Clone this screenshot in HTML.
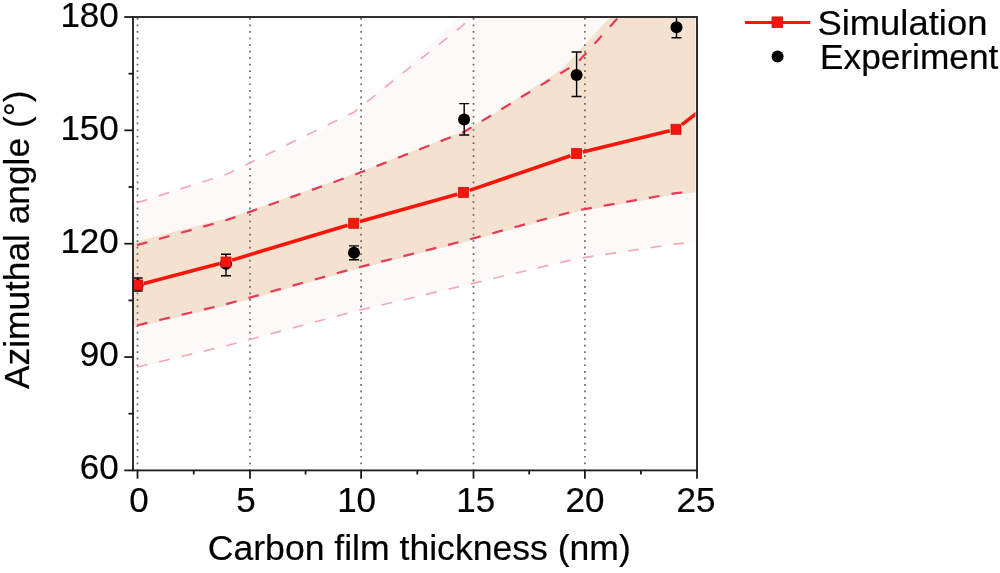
<!DOCTYPE html>
<html><head><meta charset="utf-8">
<style>
html,body{margin:0;padding:0;background:#fff;width:1000px;height:573px;overflow:hidden;}
svg{display:block;}
text{font-family:"Liberation Sans",sans-serif;fill:#000;stroke:#000;stroke-width:0.2px;}
svg{-webkit-font-smoothing:antialiased;will-change:transform;}
</style></head>
<body>
<svg width="1000" height="573" viewBox="0 0 1000 573">
<defs>
<clipPath id="pc"><rect x="133.5" y="17.7" width="562" height="452"/></clipPath>
</defs>
<g clip-path="url(#pc)">
  <!-- outer band fill -->
  <path d="M117.0,209.0 L133.0,204.0 L226.0,174.8 L300.0,142.3 L361.0,106.3 L459.6,17.5 L470.0,0.0 L705.0,0.0 L705.0,242.5 L697.0,243.0 L676.0,244.3 L576.6,259.2 L463.5,286.1 L353.7,312.1 L226.0,346.3 L137.6,367.5 L133.0,368.7 L117.0,372.0 Z" fill="#fdf9f6"/>
  <!-- inner band fill -->
  <path d="M117.0,246.5 L133.0,242.2 L226.0,218.6 L353.7,174.3 L463.5,131.0 L492.0,115.0 L562.0,69.0 L615.0,12.0 L625.0,-20.0 L705.0,-20.0 L705.0,191.5 L697.0,192.5 L676.0,194.6 L576.6,212.0 L463.5,242.5 L353.7,270.1 L226.0,305.7 L137.6,326.7 L133.0,327.8 L117.0,330.0 Z" fill="#f4e1cf"/>
</g>
<g clip-path="url(#pc)" fill="none">
  <!-- gridlines -->
  <g stroke="#666" stroke-width="1.7" stroke-dasharray="1.7 4.835">
    <line x1="137.5" y1="18.05" x2="137.5" y2="470"/>
    <line x1="250.0" y1="18.05" x2="250.0" y2="470"/>
    <line x1="361.1" y1="18.05" x2="361.1" y2="470"/>
    <line x1="473.5" y1="18.05" x2="473.5" y2="470"/>
    <line x1="584.9" y1="18.05" x2="584.9" y2="470"/>
  </g>
  <!-- outer dashed -->
  <g stroke="#f1a9bd" stroke-width="1.7" stroke-dasharray="10.8 12.15" stroke-dashoffset="18.9">
    <polyline points="133,204.1 137.6,202.6 226,174.5 353.7,112.3 463.5,24.8 472,12"/>
    <polyline points="133,368.2 137.6,367 226,345.8 353.7,311.6 463.5,285.6 576.6,258.7 676,243.8 697,242.5"/>
  </g>
  <!-- inner dashed -->
  <g stroke="#e43a55" stroke-width="2.2" stroke-dasharray="10.8 12.15" stroke-dashoffset="18.9">
    <polyline points="133,246.2 137.6,244.9 226,220.3 353.7,175 463.5,132.2 576.6,63.5 630,4.5"/>
    <polyline points="133,326.3 137.6,325.2 226,304.2 353.7,268.6 463.5,241 576.6,210.5 676,193.1 693,191.4"/>
  </g>
  <!-- simulation line -->
  <path d="M143.8,283.4 L219.8,263.6 M232.1,260.1 L347.6,225.2 M359.9,221.6 L457.3,194.2 M469.6,190.4 L570.5,155.7 M582.8,152.1 L669.8,130.8 M681.9,124.7 L720.0,95.0" stroke="#f8150c" stroke-width="3.6" stroke-linecap="butt"/>
  <!-- experiment -->
  <g stroke="#000" stroke-width="1.4">
    <line x1="137.6" y1="278" x2="137.6" y2="291"/><line x1="132.6" y1="278" x2="142.6" y2="278"/><line x1="132.6" y1="291" x2="142.6" y2="291"/>
    <line x1="226" y1="254.3" x2="226" y2="275.8"/><line x1="221" y1="254.3" x2="231" y2="254.3"/><line x1="221" y1="275.8" x2="231" y2="275.8"/>
    <line x1="354" y1="245.9" x2="354" y2="259.8"/><line x1="349" y1="245.9" x2="359" y2="245.9"/><line x1="349" y1="259.8" x2="359" y2="259.8"/>
    <line x1="464.2" y1="103.6" x2="464.2" y2="135"/><line x1="459.2" y1="103.6" x2="469.2" y2="103.6"/><line x1="459.2" y1="135" x2="469.2" y2="135"/>
    <line x1="576.6" y1="52" x2="576.6" y2="96.5"/><line x1="571.6" y1="52" x2="581.6" y2="52"/><line x1="571.6" y1="96.5" x2="581.6" y2="96.5"/>
    <line x1="676.5" y1="17" x2="676.5" y2="37.8"/><line x1="671.5" y1="37.8" x2="681.5" y2="37.8"/>
  </g>
  <g fill="#000">
    <circle cx="137.6" cy="285" r="6"/>
    <circle cx="226" cy="263.8" r="6"/>
    <circle cx="354" cy="252.8" r="6"/>
    <circle cx="464.1" cy="119.5" r="6"/>
    <circle cx="576.6" cy="75" r="6"/>
    <circle cx="676.5" cy="27.3" r="6"/>
  </g>
  <!-- sim squares -->
  <g fill="#f8150c" stroke="#d01010" stroke-width="0.8">
    <rect x="132.6" y="280.0" width="10" height="10"/>
    <rect x="221.0" y="257.0" width="10" height="10"/>
    <rect x="348.7" y="218.3" width="10" height="10"/>
    <rect x="458.5" y="187.5" width="10" height="10"/>
    <rect x="571.6" y="148.6" width="10" height="10"/>
    <rect x="671.0" y="124.3" width="10" height="10"/>
  </g>
</g>
<!-- axes frame -->
<g stroke="#1a1a1a" stroke-width="1.8" fill="none">
  <rect x="133" y="17" width="564" height="453.4"/>
  <!-- y ticks -->
  <line x1="124.3" y1="17" x2="133" y2="17"/>
  <line x1="124.3" y1="130.35" x2="133" y2="130.35"/>
  <line x1="124.3" y1="243.7" x2="133" y2="243.7"/>
  <line x1="124.3" y1="357.05" x2="133" y2="357.05"/>
  <line x1="124.3" y1="470.4" x2="133" y2="470.4"/>
  <line x1="128.5" y1="73.7" x2="133" y2="73.7"/>
  <line x1="128.5" y1="187" x2="133" y2="187"/>
  <line x1="128.5" y1="300.4" x2="133" y2="300.4"/>
  <line x1="128.5" y1="413.7" x2="133" y2="413.7"/>
  <!-- x ticks -->
  <line x1="137.5" y1="470.4" x2="137.5" y2="478.7"/>
  <line x1="250.0" y1="470.4" x2="250.0" y2="478.7"/>
  <line x1="361.1" y1="470.4" x2="361.1" y2="478.7"/>
  <line x1="473.5" y1="470.4" x2="473.5" y2="478.7"/>
  <line x1="584.9" y1="470.4" x2="584.9" y2="478.7"/>
  <line x1="697" y1="470.4" x2="697" y2="478.7"/>
  <line x1="193.75" y1="470.4" x2="193.75" y2="474.5"/>
  <line x1="305.55" y1="470.4" x2="305.55" y2="474.5"/>
  <line x1="417.3" y1="470.4" x2="417.3" y2="474.5"/>
  <line x1="529.2" y1="470.4" x2="529.2" y2="474.5"/>
  <line x1="640.95" y1="470.4" x2="640.95" y2="474.5"/>
</g>
<!-- tick labels -->
<g font-size="35" text-anchor="end">
  <text x="118.8" y="26.6">180</text>
  <text x="118.8" y="139.5">150</text>
  <text x="118.8" y="252.8">120</text>
  <text x="118.8" y="366.2">90</text>
  <text x="118.8" y="479.4">60</text>
</g>
<g font-size="35" text-anchor="middle">
  <text x="138.9" y="511.8">0</text>
  <text x="246" y="511.8">5</text>
  <text x="356.6" y="511.8">10</text>
  <text x="475.7" y="511.8">15</text>
  <text x="585" y="511.8">20</text>
  <text x="695.9" y="511.8">25</text>
</g>
<!-- axis titles -->
<text x="207.8" y="560" font-size="35.5" textLength="423" lengthAdjust="spacingAndGlyphs">Carbon film thickness (nm)</text>
<text transform="translate(29.4,389) rotate(-90)" font-size="35.5" textLength="298.5" lengthAdjust="spacingAndGlyphs">Azimuthal angle (°)</text>
<!-- legend -->
<line x1="744.9" y1="22.6" x2="810.2" y2="22.6" stroke="#f8150c" stroke-width="3"/>
<rect x="772" y="16.9" width="10.7" height="10.7" fill="#f8150c" stroke="#d01010" stroke-width="0.8"/>
<circle cx="777.6" cy="56.6" r="6" fill="#000"/>
<text x="817.4" y="34.9" font-size="34.5" textLength="170" lengthAdjust="spacingAndGlyphs">Simulation</text>
<text x="820" y="69.1" font-size="34.5" textLength="178.3" lengthAdjust="spacingAndGlyphs">Experiment</text>
</svg>
</body></html>
